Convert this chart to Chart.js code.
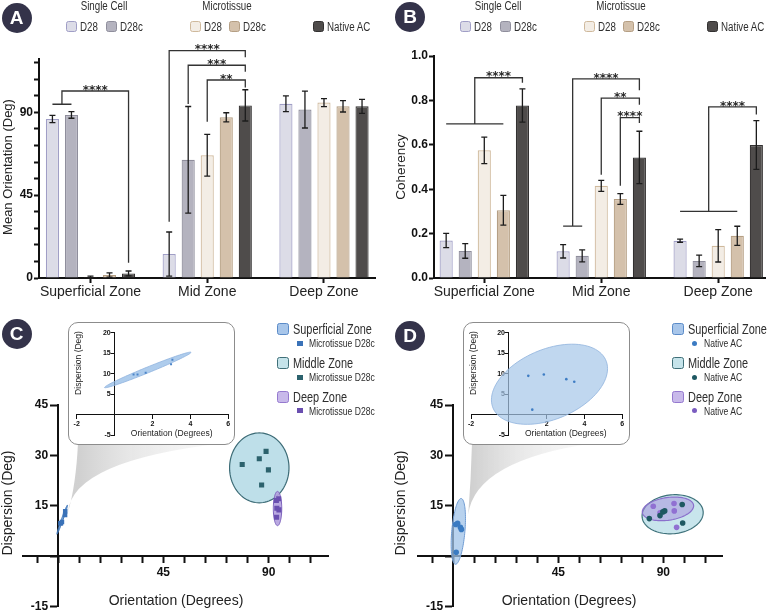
<!DOCTYPE html>
<html><head><meta charset="utf-8">
<script src="https://cdn.jsdelivr.net/npm/chart.js@4.4.1/dist/chart.umd.min.js"></script>
<style>
html,body{margin:0;padding:0;background:#fff;}
body{width:770px;height:612px;position:relative;overflow:hidden;}
canvas{position:absolute;}
.badge{position:absolute;width:30px;height:30px;margin-left:-15px;margin-top:-15px;border-radius:50%;background:#34334a;color:#fff;font:bold 19px "Liberation Sans",Arial,sans-serif;text-align:center;line-height:30px;}
.t{position:absolute;white-space:nowrap;font-family:"Liberation Sans",Arial,sans-serif;color:#2e2e2e;line-height:1;}
.tl{transform-origin:left center;transform:translateY(-50%) scaleX(0.78);}
.tc{transform-origin:center center;transform:translate(-50%,-50%) scaleX(0.78);}
.box{position:absolute;box-sizing:border-box;border-radius:2px;}
.inset{position:absolute;box-sizing:border-box;border:1.3px solid #8c8c8c;border-radius:10px;background:#fff;}
</style></head><body>
<canvas id="cA" width="385" height="300" style="left:0;top:0"></canvas>
<canvas id="cB" width="385" height="300" style="left:385px;top:0"></canvas>
<canvas id="cC" width="385" height="312" style="left:0;top:300px"></canvas>
<canvas id="cD" width="385" height="312" style="left:385px;top:300px"></canvas>
<div class="inset" style="left:68px;top:322px;width:167px;height:123px"></div>
<canvas id="cCi" width="167" height="123" style="left:68px;top:322px"></canvas>
<div class="inset" style="left:463px;top:322px;width:167px;height:123px"></div>
<canvas id="cDi" width="167" height="123" style="left:463px;top:322px"></canvas>
<script>
// ---------------- DATA ----------------
const zones = ['Superficial Zone', 'Mid Zone', 'Deep Zone'];
const groupNames = ['Single Cell', 'Microtissue'];
const seriesLabels = ['D28', 'D28c', 'D28', 'D28c', 'Native AC'];

// Panel A: mean orientation (deg) per zone
const orientScD28   = [86.4, 13.0, 94.7];
const orientScD28c  = [88.6, 64.2, 91.5];
const orientMtD28   = [0.4, 66.7, 95.3];
const orientMtD28c  = [1.6, 87.3, 93.3];
const orientNative  = [2.5, 93.8, 93.3];
const orientErrScD28  = [2.0, 12.0, 4.3];
const orientErrScD28c = [1.8, 29.0, 10.0];
const orientErrMtD28  = [0.6, 11.3, 2.2];
const orientErrMtD28c = [1.2, 2.5, 3.1];
const orientErrNative = [1.3, 8.5, 3.8];
const orientTicks = [0, 9, 18, 27, 36, 45, 54, 63, 72, 81, 90, 99, 108, 117];

// Panel B: coherency per zone
const cohScD28   = [0.169, 0.120, 0.168];
const cohScD28c  = [0.122, 0.100, 0.077];
const cohMtD28   = [0.575, 0.415, 0.145];
const cohMtD28c  = [0.305, 0.356, 0.190];
const cohNative  = [0.777, 0.543, 0.599];
const cohErrScD28  = [0.032, 0.030, 0.007];
const cohErrScD28c = [0.033, 0.027, 0.026];
const cohErrMtD28  = [0.060, 0.025, 0.073];
const cohErrMtD28c = [0.067, 0.024, 0.043];
const cohErrNative = [0.075, 0.118, 0.110];
const cohTicks = [0, 0.2, 0.4, 0.6, 0.8, 1.0];

// significance brackets (category, left bar(s), right bar, top value, left drop, right drop)
const bracketsA = [
  {cat:0, left:[0,1], right:4, top:101.6, ld:94.4, rd:8.3,   stars:'****'},
  {cat:1, left:0,     right:4, top:123.5, ld:30.6, rd:119.9, stars:'****'},
  {cat:1, left:1,     right:4, top:115.6, ld:94.5, rd:112.1, stars:'***'},
  {cat:1, left:2,     right:4, top:107.6, ld:84.9, rd:103.5, stars:'**'}
];
const bracketsB = [
  {cat:0, left:[0,3], right:4, top:0.902, ld:0.694, rd:0.880, stars:'****'},
  {cat:1, left:[0,1], right:4, top:0.897, ld:0.234, rd:0.846, stars:'****'},
  {cat:1, left:2,     right:4, top:0.810, ld:0.465, rd:0.780, stars:'**'},
  {cat:1, left:3,     right:4, top:0.722, ld:0.415, rd:0.698, stars:'****'},
  {cat:2, left:[0,3], right:4, top:0.771, ld:0.300, rd:0.736, stars:'****'}
];

// Panels C/D: orientation vs dispersion
const zoneNames = ['Superficial Zone', 'Middle Zone', 'Deep Zone'];
const supC  = [[1.0,9.8],[1.21,9.8],[1.64,10.2],[2.98,12.3],[3.05,13.4]];
const midC  = [[78.7,27.3],[86.0,29.0],[88.9,31.2],[89.9,25.7],[87.0,21.2]];
const deepC = [[94.3,17.1],[93.3,16.6],[93.5,14.3],[94.4,13.8],[93.4,11.6]];
const supD  = [[1.03,9.46],[1.85,9.8],[3.04,8.65],[3.46,8.0],[1.24,1.2]];
const midD  = [[84.0,11.2],[88.6,12.1],[89.8,13.2],[90.6,13.5],[98.1,15.4],[98.3,9.9]];
const deepD = [[85.7,14.9],[94.6,15.7],[94.7,13.5],[88.6,12.9],[95.7,8.6]];
// ellipses: [cx, cy, ax, ay, bx, by]  (centre + two conjugate semi-axis vectors, data units)
const ellSupC  = [1.75, 10.9, 2.28, 4.3, 0.05, -0.65];
const ellMidC  = [86.0, 26.3, 12.7, 0, 0, 10.4];
const ellDeepC = [93.8, 14.2, 1.8, 0, 0, 5.1];
const ellSupD  = [2.15, 7.4, 3.07, 3.82, 0, 9.02];
const ellMidD  = [94.0, 12.5, 13.1, 0.5, 0, 5.8];
const ellDeepD = [92.0, 14.1, 11.0, 0.9, 0, 3.4];
const mainXTicks = [-9,0,9,18,27,36,45,54,63,72,81,90,99,108];
const mainYTicks = [-15,0,15,30,45];
const insetXTicks = [-2,0,2,4,6];
const insetYTicks = [-5,0,5,10,15,20];
const coneTipC = [4.2, 13];
const coneTipD = [6.4, 12.4];

// ---------------- STYLE ----------------
const FONT = '"Liberation Sans", Arial, sans-serif';
Chart.defaults.font.family = FONT;
const fills   = ['#dcdce7','#b4b3bf','#f3ede5','#d4c1ab','#4f4c4b'];
const borders = ['#a09ec6','#8f8e9c','#cfb99c','#b59f84','#323030'];

function zeroPad(s){ s.paddingLeft = 0; s.paddingRight = 0; s.paddingTop = 0; s.paddingBottom = 0; }

const textPlugin = {
  id:'texts',
  afterDraw(chart, args, opts){
    const ctx = chart.ctx;
    (opts.items || []).forEach(it => {
      ctx.save();
      ctx.font = it.font; ctx.fillStyle = it.color || '#222';
      ctx.textAlign = 'center'; ctx.textBaseline = 'middle';
      ctx.translate(it.x, it.y);
      if (it.rot) ctx.rotate(it.rot);
      ctx.fillText(it.t, 0, 0);
      ctx.restore();
    });
  }
};

const barExtras = {
  id:'barExtras',
  afterDatasetsDraw(chart, args, opts){
    const ctx = chart.ctx, ys = chart.scales.y;
    const bx = (c, s) => chart.getDatasetMeta(s).data[c].x;
    ctx.save();
    ctx.strokeStyle = '#1c1c1c'; ctx.lineWidth = 1.3;
    chart.data.datasets.forEach((ds, s) => {
      chart.getDatasetMeta(s).data.forEach((bar, i) => {
        const v = ds.data[i].y, e = ds.err[i];
        const x = bar.x;
        const yl = ys.getPixelForValue(Math.max(v - e, ys.min));
        const yh = ys.getPixelForValue(v + e);
        ctx.beginPath();
        ctx.moveTo(x, yl); ctx.lineTo(x, yh);
        ctx.moveTo(x - 3, yl); ctx.lineTo(x + 3, yl);
        ctx.moveTo(x - 3, yh); ctx.lineTo(x + 3, yh);
        ctx.stroke();
      });
    });
    ctx.strokeStyle = '#333'; ctx.lineWidth = 1.3; ctx.fillStyle = '#2a2a2a';
    ctx.font = 'bold 12px "DejaVu Sans"'; ctx.textAlign = 'center'; ctx.textBaseline = 'alphabetic';
    (opts.brackets || []).forEach(b => {
      const yT = ys.getPixelForValue(b.top);
      let xl;
      ctx.beginPath();
      if (Array.isArray(b.left)) {
        const xa = bx(b.cat, b.left[0]), xb = bx(b.cat, b.left[1]), yg = ys.getPixelForValue(b.ld);
        ctx.moveTo(xa, yg); ctx.lineTo(xb, yg);
        xl = (xa + xb) / 2; ctx.moveTo(xl, yg);
      } else {
        xl = bx(b.cat, b.left); ctx.moveTo(xl, ys.getPixelForValue(b.ld));
      }
      const xr = bx(b.cat, b.right);
      ctx.lineTo(xl, yT); ctx.lineTo(xr, yT); ctx.lineTo(xr, ys.getPixelForValue(b.rd));
      ctx.stroke();
      ctx.fillText(b.stars, (xl + xr) / 2, yT + 2.7);
    });
    ctx.restore();
  }
};

const ellipsePlugin = {
  id:'ellipses',
  beforeDatasetsDraw(chart, args, opts){
    const ctx = chart.ctx, xs = chart.scales.x, ys = chart.scales.y;
    (opts.items || []).forEach(el => {
      const g = el.g;
      ctx.save();
      ctx.beginPath();
      for (let k = 0; k <= 96; k++) {
        const t = k / 96 * Math.PI * 2;
        const px = xs.getPixelForValue(g[0] + g[2] * Math.cos(t) + g[4] * Math.sin(t));
        const py = ys.getPixelForValue(g[1] + g[3] * Math.cos(t) + g[5] * Math.sin(t));
        if (k === 0) ctx.moveTo(px, py); else ctx.lineTo(px, py);
      }
      ctx.closePath();
      ctx.fillStyle = el.fill; ctx.fill();
      ctx.strokeStyle = el.stroke; ctx.lineWidth = el.lw; ctx.stroke();
      ctx.restore();
    });
  }
};

const conePlugin = {
  id:'cone',
  beforeDraw(chart, args, o){
    if (!o || !o.tip) return;
    const ctx = chart.ctx, xs = chart.scales.x, ys = chart.scales.y;
    const tx = xs.getPixelForValue(o.tip[0]), ty = ys.getPixelForValue(o.tip[1]);
    ctx.save();
    ctx.beginPath();
    ctx.moveTo(o.xl, o.y);
    ctx.quadraticCurveTo(o.cl[0], o.cl[1], tx, ty);
    ctx.quadraticCurveTo(o.cr[0], o.cr[1], o.xr, o.y);
    ctx.closePath();
    const gr = ctx.createLinearGradient(o.xl, 0, o.xr, 0);
    gr.addColorStop(0, 'rgba(200,200,200,0.85)');
    gr.addColorStop(0.35, 'rgba(218,218,218,0.65)');
    gr.addColorStop(1, 'rgba(240,240,240,0.3)');
    ctx.fillStyle = gr; ctx.fill();
    ctx.restore();
  }
};

function barChart(id, means, errs, cfg){
  const datasets = means.map((m, s) => ({
    label: groupNames[s < 2 ? 0 : 1] + ' ' + seriesLabels[s],
    data: m.map((v, i) => ({x: i, y: v})),
    err: errs[s],
    backgroundColor: fills[s], borderColor: borders[s], borderWidth: 1.2,
    categoryPercentage: 0.815, barPercentage: 0.69
  }));
  return new Chart(document.getElementById(id), {
    type: 'bar',
    data: {datasets},
    options: {
      responsive: false, animation: false, devicePixelRatio: 1, events: [],
      layout: {padding: cfg.pad},
      plugins: {legend: {display: false}, tooltip: {enabled: false},
                barExtras: {brackets: cfg.brackets}, texts: {items: cfg.texts}},
      scales: {
        x: {type: 'linear', offset: false, min: cfg.xmin, max: cfg.xmax,
            afterBuildTicks: s => { s.ticks = zones.map((z, i) => ({value: i})); },
            afterFit: s => { zeroPad(s); s.height = 22; },
            ticks: {callback: v => zones[v], autoSkip: false, maxRotation: 0, font: {size: 14}, color: '#222', padding: 1},
            grid: {display: true, offset: false, drawOnChartArea: false, tickLength: 5, tickWidth: 2, color: '#111'},
            border: {display: true, width: 2, color: '#111'}},
        y: {type: 'linear', min: 0, max: cfg.ymax,
            afterBuildTicks: s => { s.ticks = cfg.yticks.map(v => ({value: v})); },
            afterFit: s => { zeroPad(s); s.width = cfg.yw; },
            ticks: {callback: cfg.ylab, autoSkip: false, font: {size: 12, weight: 'bold'}, color: '#111', padding: 1},
            grid: {display: true, drawOnChartArea: false, tickLength: 5, tickWidth: 2, color: '#111'},
            border: {display: true, width: 2, color: '#111'}}
      }
    },
    plugins: [barExtras, textPlugin]
  });
}

function scatterChart(id, cfg){
  return new Chart(document.getElementById(id), {
    type: 'scatter',
    data: {datasets: cfg.sets.map(st => ({
      data: st.pts.map(([x, y]) => ({x, y})),
      pointStyle: st.shape, pointRadius: st.r, pointHoverRadius: st.r,
      backgroundColor: st.color, borderWidth: 0
    }))},
    options: {
      responsive: false, animation: false, devicePixelRatio: 1, events: [],
      layout: {padding: cfg.pad},
      plugins: {legend: {display: false}, tooltip: {enabled: false},
                ellipses: {items: cfg.ellipses}, cone: cfg.cone || {}, texts: {items: cfg.texts}},
      scales: {
        x: {type: 'linear', min: cfg.xr[0], max: cfg.xr[1], position: {y: 0},
            afterBuildTicks: s => { s.ticks = cfg.xticks.map(v => ({value: v})); },
            afterFit: zeroPad,
            ticks: {callback: cfg.xlab, autoSkip: false, maxRotation: 0, font: {size: cfg.fs, weight: 'bold'}, color: '#111', padding: cfg.xp},
            grid: {display: true, drawOnChartArea: false, tickLength: cfg.xtl, tickWidth: cfg.lw, color: '#111'},
            border: {display: true, width: cfg.lw, color: '#111'}},
        y: {type: 'linear', min: cfg.yr[0], max: cfg.yr[1], position: {x: 0},
            afterBuildTicks: s => { s.ticks = cfg.yticks.map(v => ({value: v})); },
            afterFit: zeroPad,
            ticks: {callback: cfg.ylab, autoSkip: false, font: {size: cfg.fs, weight: 'bold'}, color: '#111', padding: cfg.yp},
            grid: {display: true, drawOnChartArea: false, tickLength: cfg.ytl, tickWidth: cfg.lw, color: '#111'},
            border: {display: true, width: cfg.lw, color: '#111'}}
      }
    },
    plugins: [conePlugin, ellipsePlugin, textPlugin]
  });
}

// ---------------- PANELS A/B ----------------
barChart('cA',
  [orientScD28, orientScD28c, orientMtD28, orientMtD28c, orientNative],
  [orientErrScD28, orientErrScD28c, orientErrMtD28, orientErrMtD28c, orientErrNative],
  {pad: {left: 0, top: 59, right: 10, bottom: 0}, yw: 39, xmin: -0.441, xmax: 2.437, ymax: 119,
   yticks: orientTicks, ylab: v => (v % 45 === 0 ? String(v) : ''), brackets: bracketsA,
   texts: [{t: 'Mean Orientation (Deg)', x: 8, y: 167, rot: -Math.PI / 2, font: '13px ' + FONT}]});

barChart('cB',
  [cohScD28, cohScD28c, cohMtD28, cohMtD28c, cohNative],
  [cohErrScD28, cohErrScD28c, cohErrMtD28, cohErrMtD28c, cohErrNative],
  {pad: {left: 0, top: 56, right: 5, bottom: 0}, yw: 49, xmin: -0.43, xmax: 2.40, ymax: 1.0,
   yticks: cohTicks, ylab: v => Number(v).toFixed(1), brackets: bracketsB,
   texts: [{t: 'Coherency', x: 16.5, y: 167, rot: -Math.PI / 2, font: '13.5px ' + FONT}]});

// ---------------- PANELS C/D ----------------
// y labels of a value-positioned axis are right-aligned on the axis line itself;
// trailing spaces push them clear of the tick marks.
const mainCommon = {
  xr: [-15, 115.5], yr: [-15, 45], xticks: mainXTicks, yticks: mainYTicks,
  xlab: v => (v === 45 || v === 90 ? String(v) : ''), ylab: v => (v === 0 ? '' : String(v) + '   '),
  fs: 12, xtl: 6, ytl: 7, xp: 3, yp: 2, lw: 2
};
const insetCommon = {
  xr: [-2, 6], yr: [-5, 20], xticks: insetXTicks, yticks: insetYTicks,
  xlab: v => (v === 0 ? '' : String(v)), ylab: v => (v === 0 ? '' : String(v) + '  '),
  fs: 7, xtl: 4, ytl: 3.5, xp: 1.5, yp: 1, lw: 1
};

scatterChart('cC', Object.assign({}, mainCommon, {
  pad: {left: 23, right: 56.7, top: 105, bottom: 5.3},
  sets: [
    {pts: supC, shape: 'rect', r: 3.2, color: '#3a72b8'},
    {pts: midC, shape: 'rect', r: 3.6, color: '#2c626d'},
    {pts: deepC, shape: 'rect', r: 3.6, color: '#6a4fb0'}
  ],
  ellipses: [
    {g: ellSupC, fill: 'rgba(92,145,208,0.8)', stroke: '#3f76b8', lw: 1},
    {g: ellMidC, fill: 'rgba(184,220,231,0.92)', stroke: '#3d6c77', lw: 1.2},
    {g: ellDeepC, fill: 'rgba(178,160,222,0.9)', stroke: '#7b60bb', lw: 1}
  ],
  cone: {tip: coneTipC, xl: 78, xr: 226, y: 143, cl: [76, 185], cr: [72, 160]},
  texts: [
    {t: 'Dispersion (Deg)', x: 8, y: 203, rot: -Math.PI / 2, font: '14px ' + FONT},
    {t: 'Orientation (Degrees)', x: 176, y: 300.7, font: '14px ' + FONT}
  ]
}));

scatterChart('cD', Object.assign({}, mainCommon, {
  pad: {left: 33.3, right: 47.2, top: 105, bottom: 5.3},
  sets: [
    {pts: supD, shape: 'circle', r: 2.8, color: '#3b7bc2'},
    {pts: midD, shape: 'circle', r: 2.8, color: '#1e5862'},
    {pts: deepD, shape: 'circle', r: 2.8, color: '#9070d2'}
  ],
  ellipses: [
    {g: ellSupD, fill: 'rgba(160,195,232,0.75)', stroke: '#6f9bd2', lw: 1},
    {g: ellMidD, fill: 'rgba(190,225,233,0.85)', stroke: '#3f727b', lw: 1.2},
    {g: ellDeepD, fill: 'rgba(170,150,222,0.55)', stroke: '#8a70cc', lw: 1.2}
  ],
  cone: {tip: coneTipD, xl: 87, xr: 210, y: 143, cl: [86, 180], cr: [90, 160]},
  texts: [
    {t: 'Dispersion (Deg)', x: 16, y: 203, rot: -Math.PI / 2, font: '14px ' + FONT},
    {t: 'Orientation (Degrees)', x: 184, y: 300.7, font: '14px ' + FONT}
  ]
}));

scatterChart('cCi', Object.assign({}, insetCommon, {
  pad: {left: 8.7, right: 6.7, top: 10.7, bottom: 10},
  sets: [{pts: supC, shape: 'rect', r: 1.4, color: '#4b84c8'}],
  ellipses: [{g: ellSupC, fill: 'rgba(140,182,228,0.7)', stroke: '#8fb2de', lw: 0.8}],
  texts: [
    {t: 'Orientation (Degrees)', x: 103.7, y: 112, font: '8.5px ' + FONT},
    {t: 'Dispersion (Deg)', x: 11, y: 41, rot: -Math.PI / 2, font: '8.5px ' + FONT}
  ]
}));

scatterChart('cDi', Object.assign({}, insetCommon, {
  pad: {left: 8, right: 7.7, top: 10.7, bottom: 10},
  sets: [{pts: supD, shape: 'circle', r: 1.3, color: '#3f7dc4'}],
  ellipses: [{g: ellSupD, fill: 'rgba(165,198,232,0.7)', stroke: '#8fb3dd', lw: 0.8}],
  texts: [
    {t: 'Orientation (Degrees)', x: 102.8, y: 112, font: '8.5px ' + FONT},
    {t: 'Dispersion (Deg)', x: 10.3, y: 41, rot: -Math.PI / 2, font: '8.5px ' + FONT}
  ]
}));

// ---------------- LEGENDS / BADGES ----------------
function addEl(cls, css, txt){
  const d = document.createElement('div');
  d.className = cls; d.style.cssText = css;
  if (txt != null) d.textContent = txt;
  document.body.appendChild(d); return d;
}
function barLegend(dx){
  addEl('t tc', `left:${103.5 + dx}px;top:6px;font-size:12.5px`, groupNames[0]);
  addEl('t tc', `left:${226.7 + dx}px;top:6px;font-size:12.5px`, groupNames[1]);
  const bxs = [66, 106, 190, 229, 313];
  seriesLabels.forEach((lab, s) => {
    addEl('box', `left:${bxs[s] + dx}px;top:21px;width:11px;height:11px;border-radius:2.5px;background:${fills[s]};border:1.5px solid ${borders[s]}`);
    addEl('t tl', `left:${bxs[s] + dx + 14}px;top:27px;font-size:12.5px`, lab);
  });
}
barLegend(0);
barLegend(394);

const legFill   = ['#a8c6ea', '#c5e3ea', '#c8b9ea'];
const legBorder = ['#5b8bc8', '#3f6f78', '#9579cf'];
function zoneLegend(x0, sub, round, cols){
  const ly = [329.3, 363.3, 396.8], sy = [343.3, 377.3, 410.7];
  zoneNames.forEach((z, k) => {
    addEl('box', `left:${x0}px;top:${ly[k] - 6}px;width:12px;height:12px;border-radius:2.5px;background:${legFill[k]};border:1.3px solid ${legBorder[k]}`);
    addEl('t tl', `left:${x0 + 16}px;top:${ly[k]}px;font-size:14px`, z);
    addEl('box', `left:${x0 + 20}px;top:${sy[k] - 2.7}px;width:5.4px;height:5.4px;background:${cols[k]};border-radius:${round ? '50%' : '0'}`);
    addEl('t tl', `left:${x0 + 32}px;top:${sy[k]}px;font-size:11px`, sub);
  });
}
zoneLegend(277.3, 'Microtissue D28c', false, ['#3a72b8', '#2c626d', '#6a4fb0']);
zoneLegend(671.7, 'Native AC', true, ['#3b7bc2', '#1e5862', '#7a5cc0']);

addEl('badge', 'left:16.7px;top:18px', 'A');
addEl('badge', 'left:410px;top:17px', 'B');
addEl('badge', 'left:16.7px;top:334px', 'C');
addEl('badge', 'left:410px;top:335.5px', 'D');
</script>
</body></html>
